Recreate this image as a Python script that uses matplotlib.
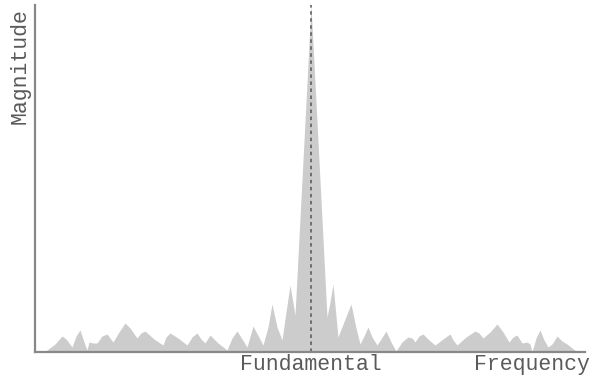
import numpy as np
import matplotlib.pyplot as plt

# spectrum outline (frequency units, magnitude units)
freq = [45, 47, 55, 62, 66, 72, 76, 80, 84, 87, 89, 93, 97, 102, 107, 113,
        119, 125, 130, 137, 141, 145, 154, 163, 166, 170, 178, 187, 192, 197,
        201, 205, 210, 218, 227, 232, 237, 247, 253, 263, 268, 272, 277, 282,
        286, 290, 295, 311, 327, 330, 333, 336, 338, 345, 351, 356, 360, 364,
        368, 372, 377, 381, 386, 391, 396, 402, 408, 412, 415, 419, 423, 429,
        435, 443, 450, 453, 457, 466, 475, 479, 483, 490, 497, 503, 509, 513,
        517, 522, 527, 530, 532, 536, 540, 544, 548, 552, 557, 562, 567, 572,
        577]
mag = [0, 2, 8, 16, 13, 5, 16, 22, 10, 2, 10, 9, 9, 16, 18, 10,
       20, 29, 24, 14, 19, 21, 13, 7, 15, 19, 14, 7, 15, 19,
       13, 9, 17, 9, 2, 14, 21, 5, 26, 7, 25, 48, 25, 12,
       40, 67, 37, 347, 35, 50, 68, 36, 15, 33, 48, 24, 8, 16,
       25, 15, 7, 13, 21, 10, 1, 10, 15, 14, 10, 16, 18, 12,
       7, 13, 18, 12, 7, 15, 21, 19, 14, 20, 28, 20, 10, 15,
       17, 9, 10, 8, 0, 14, 22, 12, 5, 8, 16, 11, 8, 4,
       0]

fundamental = 311
fig_w, fig_h = 590, 375

fig = plt.figure(figsize=(fig_w / 100, fig_h / 100), dpi=100)
ax = fig.add_axes([35 / fig_w, (fig_h - 352) / fig_h, 550 / fig_w, 347 / fig_h])

ax.fill_between(freq, 0, mag, color='#cccccc', linewidth=0)
ax.axvline(fundamental, color='#555555', linewidth=1.1, dashes=(2.3, 2.3))

ax.set_xlim(35, 585)
ax.set_ylim(0, 347)
ax.set_xticks([])
ax.set_yticks([])
for side in ['top', 'right']:
    ax.spines[side].set_visible(False)
for side in ['left', 'bottom']:
    ax.spines[side].set_color('#888888')
    ax.spines[side].set_linewidth(1.6)

font = dict(family='Liberation Mono', color='#5a5a5a', fontsize=15.5)
fig.text(fundamental / fig_w, (fig_h - 354) / fig_h, 'Fundamental',
         ha='center', va='top', **font)
fig.text(590 / fig_w, (fig_h - 354) / fig_h, 'Frequency',
         ha='right', va='top', **font)
fig.text(20 / fig_w, (fig_h - 8) / fig_h, 'Magnitude', rotation=90,
         ha='center', va='top', **font)

fig.savefig('out.png', dpi=100)
